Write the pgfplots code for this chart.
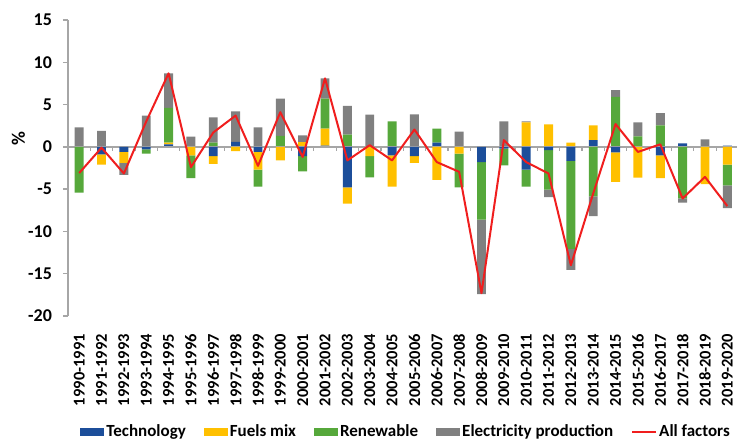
\documentclass[border=0pt]{standalone}
\usepackage{pgfplots}
\pgfplotsset{compat=1.18}
\usepackage{pgfplotstable}
\usepackage{fontspec}
\setmainfont{Carlito}

\definecolor{techblue}{HTML}{1C4E9A}
\definecolor{fuelyellow}{HTML}{FFC000}
\definecolor{rengreen}{HTML}{56A83B}
\definecolor{elecgray}{HTML}{808080}
\definecolor{linered}{HTML}{F01E1E}
\definecolor{axisgray}{HTML}{A6A6A6}

% positive parts of each factor (stacked upwards)
\pgfplotstableread{
x tech fuel ren elec
0 0 0 0 2.3
1 0 0 0 1.9
2 0 0 0 0
3 0 0 0 3.7
4 0.3 0.2 4.1 4.1
5 0 0 0 1.2
6 0 0 0.5 3.0
7 0.6 0 0 3.6
8 0 0 0 2.3
9 0 0 1.3 4.4
10 0 0.55 0 0.8
11 0.15 2.0 3.55 2.4
12 0 0 1.45 3.4
13 0 0 0 3.8
14 0 0 3.0 0
15 0 0 0 3.85
16 0.5 0 1.65 0
17 0 0 0 1.8
18 0 0 0 0
19 0 0 0 3.0
20 0 2.9 0 0.1
21 0 2.65 0 0
22 0 0.5 0 0
23 0.8 1.75 0 0
24 0 0 5.9 0.8
25 0 0 1.25 1.65
26 0 0 2.55 1.45
27 0.4 0 0 0
28 0 0 0 0.9
29 0.15 0 0 0
}\posdata

% negative parts (stacked downwards)
\pgfplotstableread{
x tech fuel ren elec
0 0 0 -5.4 0
1 -0.9 -1.2 0 0
2 -0.6 -1.3 0 -1.4
3 -0.3 0 -0.5 0
4 0 0 0 0
5 0 -1.0 -2.7 0
6 -1.1 -0.9 0 0
7 0 -0.5 0 0
8 -0.6 -2.1 -2.0 0
9 0 -1.6 0 0
10 -1.1 0 -1.8 0
11 0 0 0 0
12 -4.8 -1.9 0 0
13 0 -1.1 -2.5 0
14 -1.0 -3.7 0 0
15 -1.1 -0.8 0 0
16 0 -3.9 0 0
17 0 -0.8 -4.0 0
18 -1.8 0 -6.8 -8.8
19 -0.2 0 -2.0 0
20 -2.7 0 -2.0 0
21 -0.4 0 -4.65 -0.9
22 -1.65 0 -10.4 -2.5
23 0 0 -5.85 -2.35
24 -0.65 -3.5 0 0
25 0 -3.65 0 0
26 -1.0 -2.7 0 0
27 0 0 -6.1 -0.5
28 0 -4.4 0 0
29 0 -2.1 -2.45 -2.7
}\negdata

\pgfplotstableread{
x all
0 -3.1
1 -0.1
2 -3.15
3 3.0
4 8.7
5 -2.4
6 1.7
7 3.7
8 -2.25
9 4.1
10 -1.2
11 8.1
12 -1.6
13 0.2
14 -1.6
15 2.05
16 -1.8
17 -2.95
18 -17.3
19 0.8
20 -1.8
21 -3.15
22 -14.0
23 -5.5
24 2.7
25 -0.6
26 0.3
27 -6.1
28 -3.55
29 -7.0
}\totdata

\pgfplotsset{
  frame/.style={
    scale only axis, width=335.25pt, height=148pt,
    xmin=-0.5, xmax=29.5, ymin=-20, ymax=15,
  },
  bars/.style={ybar stacked, bar width=0.4},
  swatch/.style={legend image code/.code={\fill[##1] (0pt,-1.8pt) rectangle (12pt,1.8pt);}},
}

\begin{document}
\begin{tikzpicture}
\begin{axis}[
    frame, bars,
    axis x line*=bottom, axis y line*=left,
    x axis line style={draw=none},
    y axis line style={draw=axisgray, line width=0.75pt},
    xtick={0,...,29},
    xticklabels={1990-1991,1991-1992,1992-1993,1993-1994,1994-1995,1995-1996,1996-1997,1997-1998,1998-1999,1999-2000,2000-2001,2001-2002,2002-2003,2003-2004,2004-2005,2005-2006,2006-2007,2007-2008,2008-2009,2009-2010,2010-2011,2011-2012,2012-2013,2013-2014,2014-2015,2015-2016,2016-2017,2017-2018,2018-2019,2019-2020},
    xtick style={draw=none},
    xticklabel style={yshift=-3pt, rotate=90, anchor=east, font=\fontsize{8.25}{10}\selectfont\bfseries},
    ytick={-20,-15,...,15},
    ytick style={draw=axisgray, line width=0.75pt},
    tick align=outside, major tick length=2.5pt,
    yticklabel style={xshift=-2pt, font=\fontsize{9}{10}\selectfont\bfseries},
    /pgf/number format/assume math mode=true,
    ylabel={\%},
    every axis y label/.style={at={(axis description cs:-0.074,0.598)}, rotate=90, anchor=center, font=\fontsize{9.5}{10}\selectfont\bfseries},
    legend columns=5,
    legend style={at={(0.018,-0.392)}, anchor=west, draw=none, fill=none, inner sep=0pt,
      font=\fontsize{8.5}{10}\selectfont\bfseries,
      nodes={inner sep=1pt},
      /tikz/every even column/.append style={column sep=8pt}},
  ]
  \coordinate (tl) at (axis cs:-0.5,15);
  \draw[axisgray, line width=0.75pt] (axis cs:-0.5,0) -- (axis cs:29.5,0);
  \pgfplotsinvokeforeach{0,...,29}{\draw[axisgray, line width=0.6pt] (axis cs:#1.5,0) -- ([yshift=-2pt]axis cs:#1.5,0);}
  \addplot[fill=techblue, draw=none, swatch] table[x=x, y=tech]{\posdata};
  \addlegendentry{Technology}
  \addplot[fill=fuelyellow, draw=none, swatch] table[x=x, y=fuel]{\posdata};
  \addlegendentry{Fuels mix}
  \addplot[fill=rengreen, draw=none, swatch] table[x=x, y=ren]{\posdata};
  \addlegendentry{Renewable}
  \addplot[fill=elecgray, draw=none, swatch] table[x=x, y=elec]{\posdata};
  \addlegendentry{Electricity production}
  \addlegendimage{legend image code/.code={\draw[linered, line width=1pt] (0pt,0pt) -- (12pt,0pt);}}
  \addlegendentry{All factors}
\end{axis}

\begin{axis}[frame, bars, hide axis]
  \addplot[fill=techblue, draw=none] table[x=x, y=tech]{\negdata};
  \addplot[fill=fuelyellow, draw=none] table[x=x, y=fuel]{\negdata};
  \addplot[fill=rengreen, draw=none] table[x=x, y=ren]{\negdata};
  \addplot[fill=elecgray, draw=none] table[x=x, y=elec]{\negdata};
\end{axis}

\begin{axis}[frame, hide axis]
  \addplot[sharp plot, linered, line width=1pt, line join=round, mark=none] table[x=x, y=all]{\totdata};
\end{axis}

\pgfresetboundingbox
\path[use as bounding box] ([shift={(-34pt,10pt)}]tl) rectangle ([shift={(334.5pt,-210.5pt)}]tl);
\end{tikzpicture}
\end{document}
